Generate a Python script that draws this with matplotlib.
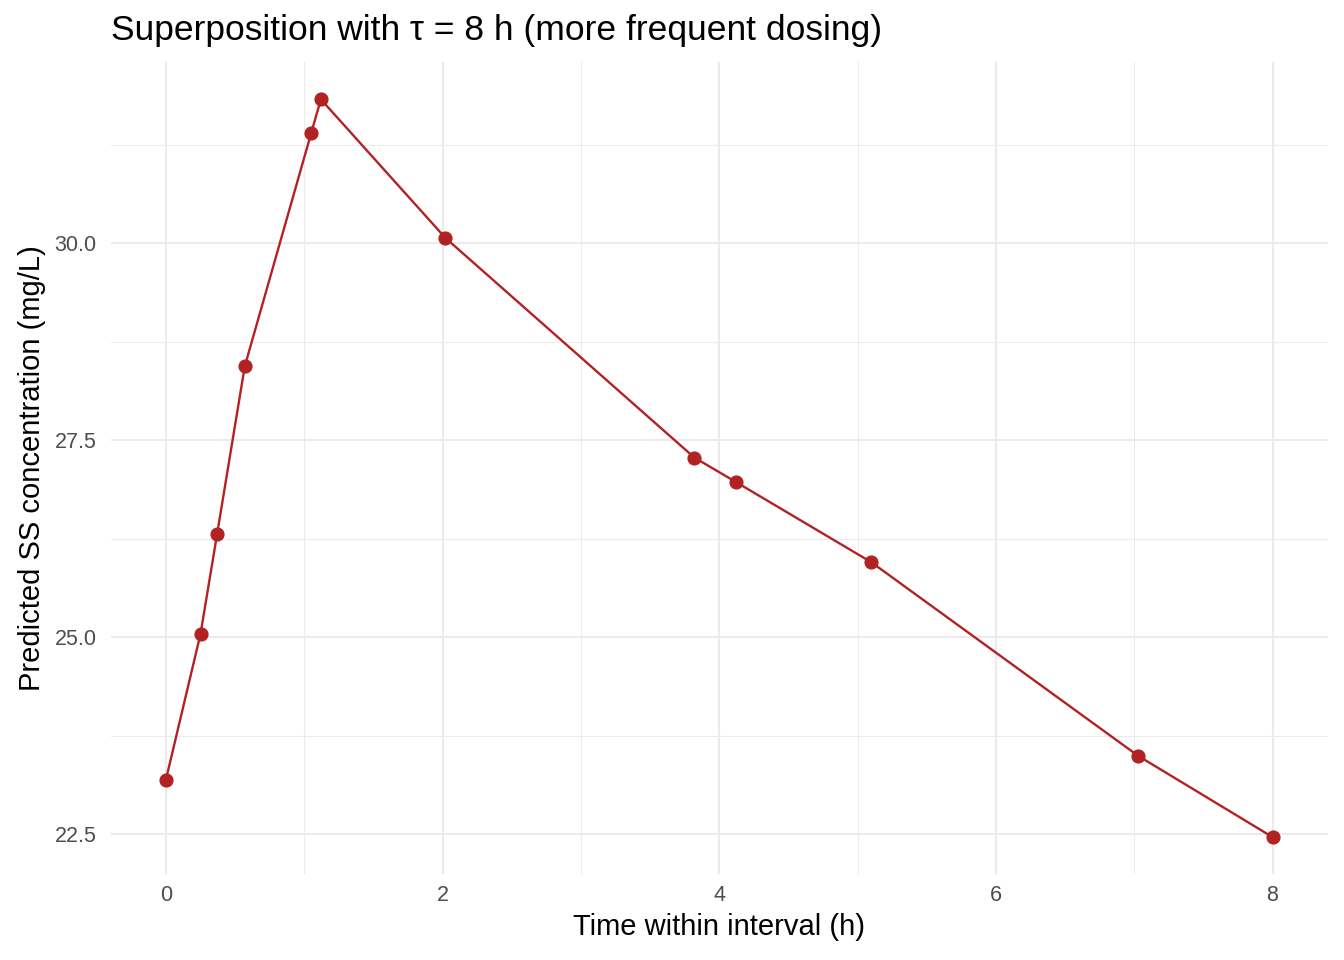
import numpy as np
import matplotlib
matplotlib.use("Agg")
import matplotlib.pyplot as plt
from matplotlib.ticker import MultipleLocator

plt.rcParams['font.family'] = ['Liberation Sans', 'DejaVu Sans']

# steady-state profile within one dosing interval
time_h = [0.0, 0.25, 0.37, 0.57, 1.05, 1.12, 2.02, 3.82, 4.12, 5.10, 7.03, 8.0]
conc_mgL = [23.19, 25.04, 26.31, 28.44, 31.40, 31.83, 30.07, 27.28, 26.97,
            25.95, 23.49, 22.46]

x_ticks = [0, 2, 4, 6, 8]
y_ticks = [22.5, 25.0, 27.5, 30.0]
y_tick_labels = ["22.5", "25.0", "27.5", "30.0"]

fig = plt.figure(figsize=(13.44, 9.6), dpi=100)
ax = fig.add_axes([0.0823, 0.0896, 0.988 - 0.0823, 0.935 - 0.0896])

ax.plot(time_h, conc_mgL, color='#B22222', linewidth=1.7, zorder=3)
ax.plot(time_h, conc_mgL, 'o', color='#B22222', markersize=9.2, zorder=4)

# ggplot-style expansion of 5%
xr = max(time_h) - min(time_h)
yr = max(conc_mgL) - min(conc_mgL)
ax.set_xlim(min(time_h) - 0.05 * xr, max(time_h) + 0.05 * xr)
ax.set_ylim(min(conc_mgL) - 0.05 * yr, max(conc_mgL) + 0.05 * yr)

ax.set_xticks(x_ticks)
ax.set_xticklabels([str(t) for t in x_ticks])
ax.set_yticks(y_ticks)
ax.set_yticklabels(y_tick_labels)
ax.xaxis.set_minor_locator(MultipleLocator(1))
ax.yaxis.set_minor_locator(MultipleLocator(1.25))

ax.grid(which='major', color='#EBEBEB', linewidth=1.5)
ax.grid(which='minor', color='#EBEBEB', linewidth=0.75)
ax.set_axisbelow(True)
for s in ax.spines.values():
    s.set_visible(False)
ax.tick_params(which='both', length=0)
ax.tick_params(axis='x', labelsize=15.5, colors='#4D4D4D', pad=8)
ax.tick_params(axis='y', labelsize=15.5, colors='#4D4D4D', pad=10)

ax.set_xlabel("Time within interval (h)", fontsize=21, color='black', labelpad=5)
ax.set_ylabel("Predicted SS concentration (mg/L)", fontsize=21, color='black', labelpad=6)
ax.set_title("Superposition with τ = 8 h (more frequent dosing)", fontsize=25.5,
             loc='left', pad=16)

fig.savefig("out.png", dpi=100)
